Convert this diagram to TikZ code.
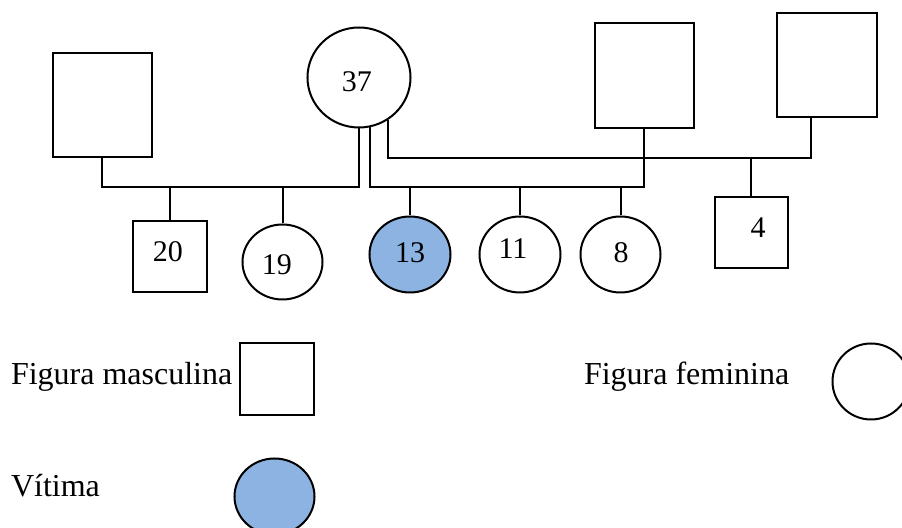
\documentclass[tikz,border=0pt]{standalone}
\usepackage{fontspec}
\setmainfont{Liberation Serif}
\usetikzlibrary{calc, shapes.geometric}
\definecolor{victimblue}{RGB}{141,179,226}
\tikzset{
  male/.style={draw, line width=1pt, inner sep=0pt},
  female/.style={draw, ellipse, line width=1pt, inner sep=0pt},
  victim/.style={female, fill=victimblue},
  age/.style={anchor=base, inner sep=0pt, font=\fontsize{15pt}{18pt}\selectfont},
  legend/.style={anchor=base west, inner sep=0pt, font=\fontsize{16pt}{19pt}\selectfont}
}

\begin{document}
\begin{tikzpicture}[x=0.5pt,y=-0.5pt,line width=1pt]
\useasboundingbox (0,0) rectangle (902,528);
\clip (0,0) rectangle (902,528);
% Parents
\node[male,minimum width=49.5pt,minimum height=52pt] (f1) at (102,105.5) {};
\node[female,minimum width=51.5pt,minimum height=50pt] (mother) at (359,77.5) {};
\node[male,minimum width=49.5pt,minimum height=52.5pt] (f2) at (644,76) {};
\node[male,minimum width=50pt,minimum height=52pt] (f3) at (826.5,65.5) {};
\node[age] (t37) at (357,92) {37};
% Levels of the sibling lines
\coordinate (bar1) at (0,187);
\coordinate (bar3) at (0,158);
\coordinate (f3link) at ($(f3.south)+(-16,0)$);
% Lines from mother to each father
\draw (f1.south) |- (mother.south |- bar1) -- (mother.south);
\draw (mother.-78) |- (f2.south |- bar1) -- (f2.south);
\draw (mother.-56) |- (f3link |- bar3) -- (f3link);
% Children
\node[male,minimum width=37pt,minimum height=35.5pt] (c20) at (169.5,257) {};
\node[female,minimum width=40pt,minimum height=37.5pt] (c19) at (282.5,262) {};
\node[victim,minimum width=40.5pt,minimum height=38pt] (c13) at (410,254.5) {};
\node[female,minimum width=40.5pt,minimum height=38pt] (c11) at (520,254.5) {};
\node[female,minimum width=40pt,minimum height=38pt] (c8) at (620.5,254.5) {};
\node[male,minimum width=36.5pt,minimum height=35.5pt] (c4) at (751,233) {};
\node[age] (t20) at (168,262) {20};
\node[age] (t19) at (277,275) {19};
\node[age] (t13) at (410,263) {13};
\node[age] (t11) at (513,259) {11};
\node[age] (t8) at (621,263) {8};
\node[age] (t4) at (758,238) {4};
% Drop lines to the children
\foreach \c in {c20,c19,c13,c11,c8}
  \draw (\c.north |- bar1) -- (\c.north);
\draw (c4.north |- bar3) -- (c4.north);
% Legend
\node[legend] (lmale) at (10,385) {Figura masculina};
\node[male,minimum width=37pt,minimum height=36pt] (smale) at (276.5,379.5) {};
\node[legend] (lfemale) at (583,385) {Figura feminina};
\node[female,minimum width=38.5pt,minimum height=38pt] (sfemale) at (871,381.5) {};
\node[legend] (lvictim) at (10,497) {Vítima};
\node[victim,minimum width=40pt,minimum height=38pt] (svictim) at (274.5,496.5) {};
\end{tikzpicture}
\end{document}
